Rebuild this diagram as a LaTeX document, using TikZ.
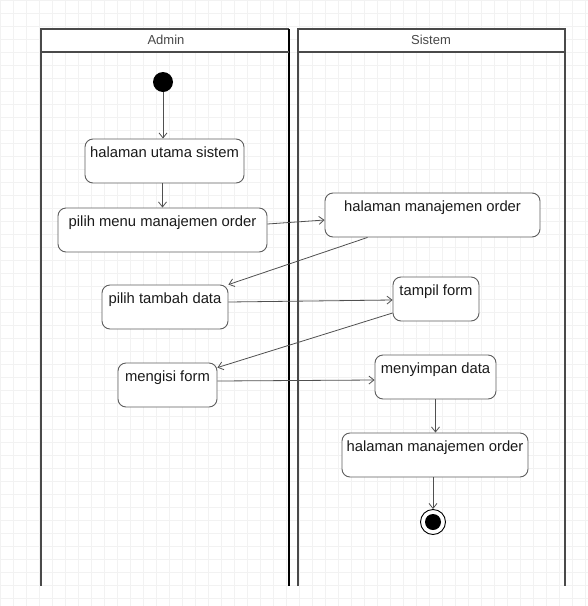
\documentclass[tikz,border=0pt]{standalone}
\usepackage{fontspec}
\setmainfont{Liberation Sans}
\usetikzlibrary{arrows.meta,calc}
\definecolor{lanegray}{HTML}{4A4A4A}
\definecolor{boxgray}{HTML}{5E5E5E}
\definecolor{flowgray}{HTML}{505050}
\definecolor{txt}{HTML}{1A1A1A}
\begin{document}
\begin{tikzpicture}[x=1pt,y=-1pt,
  act/.style={draw=boxgray, line width=0.9pt, rounded corners=8pt, fill=white,
    inner xsep=3pt, inner ysep=5pt, text height=13.5pt, text depth=20.5pt,
    font=\fontsize{14.8}{16}\selectfont, text=txt, anchor=center},
  flow/.style={draw=flowgray, line width=0.8pt, -{Straight Barb[length=5pt,width=8pt]}},
  lane/.style={draw=lanegray, line width=1.8pt},
  lanetitle/.style={font=\fontsize{13}{15}\selectfont, text=txt!80}]
  \useasboundingbox (0,0) rectangle (588,606);
  \fill[white] (0,0) rectangle (588,606);
  % background grid
  \draw[gray!10, line width=0.4pt, step=13pt] (0,0) grid (588,606);

  % swimlanes (open at the bottom)
  \fill[white] (41,29) rectangle (289,52);
  \fill[white] (298,29) rectangle (565,52);
  \draw[lane] (41,586) -- (41,29) -- (289,29);
  \draw[line width=2.2pt, black] (289,29) -- (289,586);
  \draw[lane] (41,52) -- (289,52);
  \draw[lane] (298,586) -- (298,29) -- (565,29) -- (565,586);
  \draw[lane] (298,52) -- (565,52);
  \node[lanetitle] (admin) at (166,40) {Admin};
  \node[lanetitle] (sistem) at (431,40) {Sistem};

  % activities
  \node[circle, fill=black, minimum size=20pt, inner sep=0pt] (start) at (163,82) {};
  \node[act, minimum width=159pt] (hu) at (164.5,161) {halaman utama sistem};
  \node[act, minimum width=209pt] (pm) at (162.5,230) {pilih menu manajemen order};
  \node[act, minimum width=215pt] (hmo) at (432.5,215) {halaman manajemen order};
  \node[act, minimum width=86pt] (tf) at (436,299) {tampil form};
  \node[act, minimum width=126pt] (ptd) at (165,307) {pilih tambah data};
  \node[act, minimum width=99pt] (mf) at (167.5,385) {mengisi form};
  \node[act, minimum width=121pt] (md) at (435.5,377) {menyimpan data};
  \node[act, minimum width=186pt] (hmo2) at (435,455) {halaman manajemen order};
  \node[circle, draw=black, line width=0.9pt, fill=white, minimum size=25pt, inner sep=0pt] (fin) at (433,522) {};
  \fill[black] (fin.center) circle (8pt);

  % control flow
  \draw[flow] (start.south) -- (start.south |- hu.north);
  \draw[flow] (hu.south -| pm.north) -- (pm.north);
  \draw[flow] ([yshift=6pt]pm.east) -- ([yshift=-5pt]hmo.west);
  \draw[flow] ($(hmo.south)+(-65,0)$) -- (ptd.north east);
  \draw[flow] ([yshift=5pt]ptd.east) -- ([yshift=-1pt]tf.west);
  \draw[flow] ([yshift=-14pt]tf.west) -- ([yshift=-5pt]mf.north east);
  \draw[flow] ([yshift=4pt]mf.east) -- ([yshift=-3pt]md.west);
  \draw[flow] (md.south) -- (md.south |- hmo2.north);
  \draw[flow] (hmo2.south -| fin.north) -- (fin.north);
\end{tikzpicture}
\end{document}
